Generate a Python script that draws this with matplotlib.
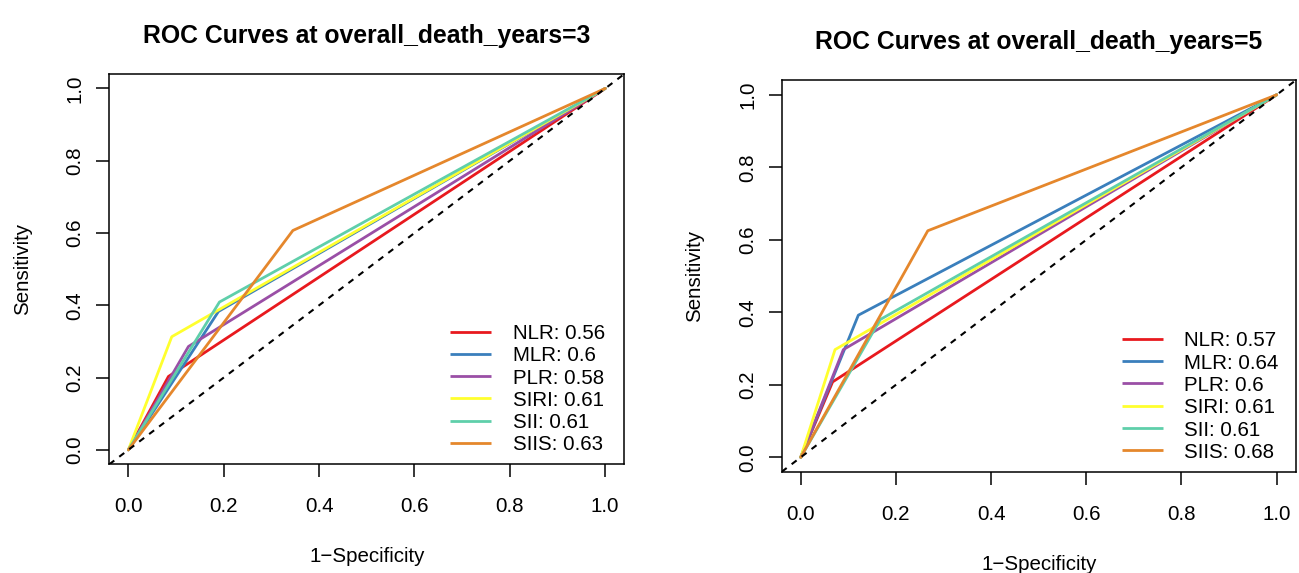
import matplotlib
matplotlib.use('Agg')
import matplotlib.pyplot as plt

plt.rcParams['font.family'] = ['Liberation Sans', 'DejaVu Sans']

# ROC operating points (one cut-off per marker) and AUCs
markers = ['NLR', 'MLR', 'PLR', 'SIRI', 'SII', 'SIIS']
colors = ['#E8191E', '#3A7FBC', '#9A4FA6', '#FFFF2E', '#5FCFAA', '#E5872C']

fpr_3y = [0.084, 0.189, 0.126, 0.091, 0.191, 0.345]
tpr_3y = [0.203, 0.383, 0.286, 0.313, 0.409, 0.607]
auc_3y = [0.56, 0.6, 0.58, 0.61, 0.61, 0.63]

fpr_5y = [0.067, 0.121, 0.0895, 0.072, 0.167, 0.267]
tpr_5y = [0.208, 0.392, 0.297, 0.297, 0.380, 0.625]
auc_5y = [0.57, 0.64, 0.6, 0.61, 0.61, 0.68]

ticks = [0.0, 0.2, 0.4, 0.6, 0.8, 1.0]

W, H = 1299, 573
fig = plt.figure(figsize=(W / 100, H / 100), dpi=100)
fig.patch.set_facecolor('white')


def px_axes(left, top, right, bottom):
    return fig.add_axes([left / W, 1 - bottom / H, (right - left) / W, (bottom - top) / H])


def r_legend(ax, labels):
    # base-R style legend without a frame, bottom-right corner
    n = len(labels)
    for i, (lab, col) in enumerate(zip(labels, colors)):
        y = 0.0553 + (n - 1 - i) * 0.0569
        ax.plot([0.6616, 0.741], [y, y], transform=ax.transAxes, color=col,
                lw=2.0, zorder=6, solid_capstyle='butt')
        ax.text(0.7833, y - 0.0195, lab, transform=ax.transAxes, fontsize=14.8,
                ha='left', va='baseline', zorder=6)


def roc_panel(ax, fpr, tpr, auc, years):
    for name, col, x, y in zip(markers, colors, fpr, tpr):
        ax.plot([0, x, 1], [0, y, 1], color=col, lw=2.0,
                solid_joinstyle='round', solid_capstyle='round', zorder=2)
    ax.axline((0, 0), slope=1, color='black', lw=1.5, ls=(0, (3, 3)), zorder=3)

    ax.set_xlim(-0.04, 1.04)
    ax.set_ylim(-0.04, 1.04)
    ax.set_xticks(ticks)
    ax.set_yticks(ticks)
    ax.set_xticklabels([f'{t:.1f}' for t in ticks])
    ax.set_yticklabels([f'{t:.1f}' for t in ticks], rotation=90, va='center')
    ax.tick_params(direction='out', length=9.4, width=1.1, labelsize=14.8, colors='black')
    ax.tick_params(axis='x', pad=14.2)
    ax.tick_params(axis='y', pad=8.3)
    for sp in ax.spines.values():
        sp.set_linewidth(1.1)
        sp.set_color('black')

    ax.set_xlabel('1\u2212Specificity', fontsize=14.8, labelpad=22.3)
    ax.set_ylabel('Sensitivity', fontsize=14.8, labelpad=24.5)
    ax.set_title(f'ROC Curves at overall_death_years={years}', fontsize=17.8,
                 fontweight='bold', pad=22.4)

    r_legend(ax, [f'{m}: {a:g}' for m, a in zip(markers, auc)])


ax1 = px_axes(109.3, 74.0, 624.3, 464.3)
ax2 = px_axes(781.7, 80.3, 1295.7, 471.8)

roc_panel(ax1, fpr_3y, tpr_3y, auc_3y, 3)
roc_panel(ax2, fpr_5y, tpr_5y, auc_5y, 5)

fig.savefig('out.png', dpi=100, facecolor='white')
